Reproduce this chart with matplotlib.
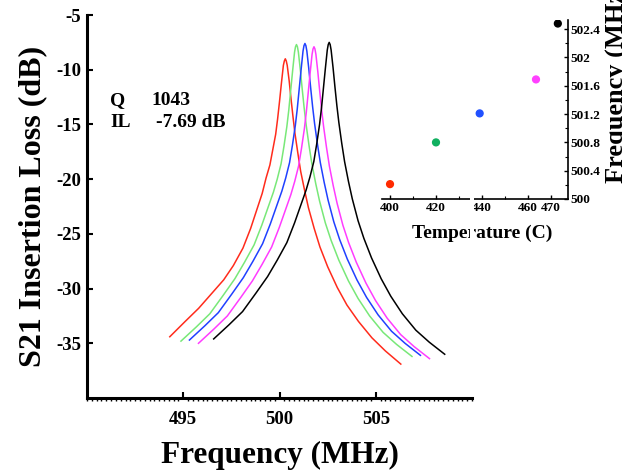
import matplotlib.pyplot as plt
from matplotlib.patches import Rectangle
from matplotlib.ticker import MultipleLocator

plt.rcParams['font.family'] = ['Liberation Serif', 'DejaVu Serif']
plt.rcParams['font.weight'] = 'bold'
plt.rcParams['axes.unicode_minus'] = False

# S21 sweeps, one per temperature (MHz, dB)
red_f = [494.30, 495.10, 495.80, 496.50, 497.10, 497.60, 498.10, 498.50, 498.80, 499.10,
         499.30, 499.50, 499.65, 499.80, 499.90, 500.00, 500.10, 500.20, 500.25, 500.30,
         500.35, 500.40, 500.50, 500.60, 500.70, 500.80, 500.95, 501.10, 501.30, 501.50,
         501.80, 502.10, 502.50, 503.00, 503.50, 504.10, 504.80, 505.50, 506.30]
red_db = [-34.4, -33.0, -31.8, -30.4, -29.2, -27.9, -26.3, -24.5, -22.9, -21.3,
          -19.9, -18.7, -17.3, -15.9, -14.5, -12.9, -11.2, -9.6, -9.2, -9.0,
          -9.2, -9.6, -11.0, -12.7, -14.3, -15.8, -17.6, -19.3, -21.0, -22.6,
          -24.5, -26.2, -28.0, -29.9, -31.5, -33.0, -34.5, -35.7, -36.9]

green_f = [494.88, 495.68, 496.38, 497.08, 497.68, 498.18, 498.68, 499.08, 499.38, 499.68,
           499.88, 500.08, 500.23, 500.38, 500.48, 500.58, 500.68, 500.78, 500.83, 500.88,
           500.93, 500.98, 501.08, 501.18, 501.28, 501.38, 501.53, 501.68, 501.88, 502.08,
           502.38, 502.68, 503.08, 503.58, 504.08, 504.68, 505.38, 506.08, 506.88]
green_db = [-34.8, -33.5, -32.3, -30.6, -29.1, -27.6, -26.0, -24.2, -22.7, -21.2,
            -20.0, -18.6, -17.0, -15.2, -13.7, -11.9, -10.1, -8.4, -7.9, -7.7,
            -7.9, -8.4, -10.0, -11.8, -13.5, -15.0, -16.9, -18.6, -20.4, -22.0,
            -24.0, -25.6, -27.4, -29.3, -30.9, -32.5, -34.0, -35.1, -36.2]

blue_f = [495.32, 496.12, 496.82, 497.52, 498.12, 498.62, 499.12, 499.52, 499.82, 500.12,
          500.32, 500.52, 500.67, 500.82, 500.92, 501.02, 501.12, 501.22, 501.27, 501.32,
          501.37, 501.42, 501.52, 501.62, 501.72, 501.82, 501.97, 502.12, 502.32, 502.52,
          502.82, 503.12, 503.52, 504.02, 504.52, 505.12, 505.82, 506.52, 507.32]
blue_db = [-34.7, -33.4, -32.2, -30.5, -29.0, -27.5, -25.9, -24.1, -22.6, -21.1,
           -19.9, -18.5, -16.9, -15.1, -13.6, -11.8, -10.0, -8.3, -7.8, -7.6,
           -7.8, -8.3, -9.9, -11.7, -13.4, -14.9, -16.8, -18.5, -20.3, -21.9,
           -23.9, -25.5, -27.3, -29.2, -30.8, -32.4, -33.9, -35.0, -36.1]

magenta_f = [495.79, 496.59, 497.29, 497.99, 498.59, 499.09, 499.59, 499.99, 500.29, 500.59,
             500.79, 500.99, 501.14, 501.29, 501.39, 501.49, 501.59, 501.69, 501.74, 501.79,
             501.84, 501.89, 501.99, 502.09, 502.19, 502.29, 502.44, 502.59, 502.79, 502.99,
             503.29, 503.59, 503.99, 504.49, 504.99, 505.59, 506.29, 506.99, 507.79]
magenta_db = [-35.0, -33.7, -32.5, -30.8, -29.3, -27.8, -26.2, -24.4, -22.9, -21.4,
              -20.2, -18.8, -17.2, -15.4, -13.9, -12.1, -10.3, -8.6, -8.1, -7.9,
              -8.1, -8.6, -10.2, -12.0, -13.7, -15.2, -17.1, -18.8, -20.6, -22.2,
              -24.2, -25.8, -27.6, -29.5, -31.1, -32.7, -34.2, -35.3, -36.4]

black_f = [496.58, 497.38, 498.08, 498.78, 499.38, 499.88, 500.38, 500.78, 501.08, 501.38,
           501.58, 501.78, 501.93, 502.08, 502.18, 502.28, 502.38, 502.48, 502.53, 502.58,
           502.63, 502.68, 502.78, 502.88, 502.98, 503.08, 503.23, 503.38, 503.58, 503.78,
           504.08, 504.38, 504.78, 505.28, 505.78, 506.38, 507.08, 507.78, 508.58]
black_db = [-34.6, -33.3, -32.1, -30.4, -28.9, -27.4, -25.8, -24.0, -22.5, -21.0,
            -19.8, -18.4, -16.8, -15.0, -13.5, -11.7, -9.9, -8.2, -7.7, -7.5,
            -7.7, -8.2, -9.8, -11.6, -13.3, -14.8, -16.7, -18.4, -20.2, -21.8,
            -23.8, -25.4, -27.2, -29.1, -30.7, -32.3, -33.8, -34.9, -36.0]

curve_colors = ['#ff2b1c', '#78e878', '#2040ff', '#ff3cff', '#000000']

# inset: resonance frequency vs temperature
temps = [400, 420, 439, 463.5, 473]
res_freq = [500.21, 500.80, 501.21, 501.69, 502.48]
dot_colors = ['#ff2a00', '#10b060', '#2050ff', '#ff40ff', '#000000']

fig = plt.figure(figsize=(6.22, 4.74), dpi=100)

ax = fig.add_axes([0.1399, 0.1603, 0.619, 0.808])
sweeps = [(red_f, red_db), (green_f, green_db), (blue_f, blue_db),
          (magenta_f, magenta_db), (black_f, black_db)]
for (f, s), c in zip(sweeps, curve_colors):
    ax.plot(f, s, color=c, lw=1.1)

ax.set_xlim(490, 510)
ax.set_ylim(-40, -5)
ax.set_xticks([495, 500, 505])
ax.set_yticks([-35, -30, -25, -20, -15, -10, -5])
ax.xaxis.set_minor_locator(MultipleLocator(0.25))
for side in ['top', 'right']:
    ax.spines[side].set_visible(False)
for side in ['left', 'bottom']:
    ax.spines[side].set_linewidth(2.2)
ax.tick_params(axis='both', which='major', direction='in', length=4, width=1.5,
               labelsize=13.5)
ax.tick_params(axis='x', which='major', pad=9)
ax.tick_params(axis='y', which='major', pad=4)
ax.tick_params(axis='x', which='minor', direction='out', length=2, width=1)
ax.set_xlabel('Frequency (MHz)', fontsize=22.5, fontweight='bold')
ax.set_ylabel('S21 Insertion Loss (dB)', fontsize=23, fontweight='bold')
ax.xaxis.set_label_coords(0.5, -0.112)
ax.yaxis.set_label_coords(-0.104, 0.5)

ax.text(491.2, -13.18, 'Q', fontsize=14, fontweight='bold', va='baseline')
ax.text(493.35, -13.18, '1043', fontsize=14, fontweight='bold', va='baseline')
ax.text(491.2, -15.27, 'IL', fontsize=14, fontweight='bold', va='baseline')
ax.text(493.56, -15.27, '-7.69 dB', fontsize=14, fontweight='bold', va='baseline')

ins = fig.add_axes([0.6141, 0.5802, 0.299, 0.3776])
ins.set_facecolor('none')
ins.scatter(temps, res_freq, c=dot_colors, s=24, zorder=3)
ins.set_xlim(396.5, 477.4)
ins.set_ylim(500, 502.53)
ins.set_xticks([400, 420, 440, 460, 470])
ins.set_xticks([410, 430, 450], minor=True)
ins.set_yticks([500, 500.4, 500.8, 501.2, 501.6, 502, 502.4])
ins.set_yticklabels(['500', '500.4', '500.8', '501.2', '501.6', '502', '502.4'])
ins.yaxis.set_minor_locator(MultipleLocator(0.2))
ins.yaxis.tick_right()
ins.yaxis.set_label_position('right')
for side in ['top', 'left']:
    ins.spines[side].set_visible(False)
for side in ['bottom', 'right']:
    ins.spines[side].set_linewidth(1.2)
ins.tick_params(axis='both', which='major', direction='in', length=3, width=1,
                labelsize=9.5, pad=2)
ins.tick_params(axis='both', which='minor', direction='in', length=2, width=0.8)
ins.set_xlabel('Temperature (C)', fontsize=14, fontweight='bold')
ins.xaxis.set_label_coords(0.538, -0.145)
# the reference crops this label at the right edge of the figure
ins.set_ylabel('Frequency (MHz)', fontsize=19, fontweight='bold',
               rotation=90, ha='left', va='bottom')
ins.yaxis.set_label_coords(1.33, 0.089)

# gap of the broken temperature axis
fig.patches.append(Rectangle((0.7556, 0.483), 0.0064, 0.112, transform=fig.transFigure,
                             facecolor='white', edgecolor='none', zorder=10))

fig.savefig('out.png', dpi=100)
